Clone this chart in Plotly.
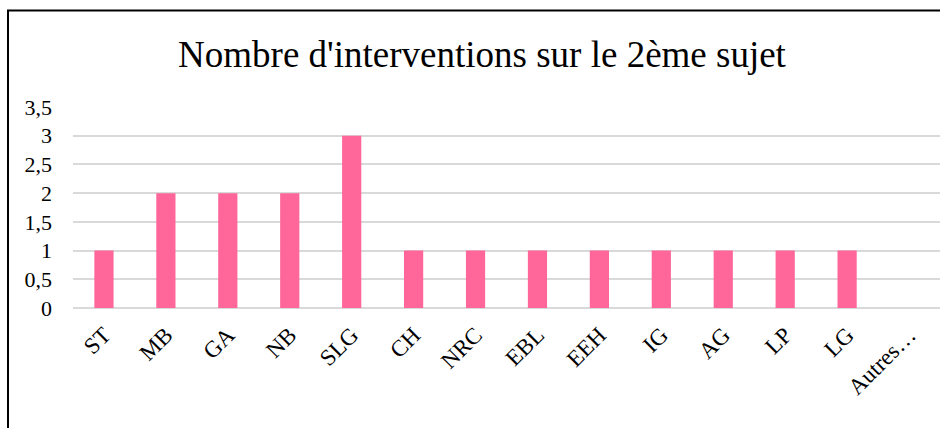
import plotly.graph_objects as go

categories = ["ST", "MB", "GA", "NB", "SLG", "CH", "NRC", "EBL", "EEH", "IG", "AG", "LP", "LG", "Autres…"]
values = [1, 2, 2, 2, 3, 1, 1, 1, 1, 1, 1, 1, 1, 0]
y_tickvals = [0, 0.5, 1, 1.5, 2, 2.5, 3, 3.5]
y_ticktext = ["0", "0,5", "1", "1,5", "2", "2,5", "3", "3,5"]
title_text = "Nombre d'interventions sur le 2ème sujet"

W, H = 940, 428
L, R, T, B = 73, 0, 107, 120
pw, ph = W - L - R, H - T - B

def px(x):
    return (x - L) / pw

def py(y):
    return (H - B - y) / ph

fig = go.Figure(go.Bar(
    x=categories, y=values,
    marker=dict(color="#FF6699", line=dict(width=0)),
    width=0.31,
))

font = "Liberation Serif, Times New Roman, serif"
fig.update_layout(
    width=W, height=H,
    margin=dict(l=L, r=R, t=T, b=B, pad=0),
    paper_bgcolor="white", plot_bgcolor="white",
    font=dict(family=font, color="black", size=22),
    title=dict(text=title_text, x=482 / W, xanchor="center", xref="container",
               y=1 - 54 / H, yanchor="middle", yref="container",
               font=dict(family=font, size=37, color="black")),
    showlegend=False,
    shapes=[
        dict(type="line", xref="paper", yref="paper", x0=px(8), x1=px(8),
             y0=py(10.5), y1=py(440), line=dict(color="black", width=2)),
        dict(type="line", xref="paper", yref="paper", x0=px(7), x1=px(945),
             y0=py(10.5), y1=py(10.5), line=dict(color="black", width=2)),
    ],
)
fig.update_xaxes(tickangle=-45, showgrid=False, showline=False, ticks="",
                 ticklabelstandoff=8,
                 tickfont=dict(size=23, family=font, color="black"))
fig.update_yaxes(range=[0, 3.5], tickvals=y_tickvals, ticktext=y_ticktext,
                 showgrid=True, gridcolor="#D9D9D9", gridwidth=1.5,
                 zeroline=True, zerolinecolor="#D9D9D9", zerolinewidth=1.5,
                 showline=False, ticks="", ticklabelstandoff=20,
                 tickfont=dict(size=22, family=font, color="black"))

fig.write_html("out.html", config={"displayModeBar": False},
               post_script="document.body.style.margin='0';document.body.style.overflow='hidden';")
